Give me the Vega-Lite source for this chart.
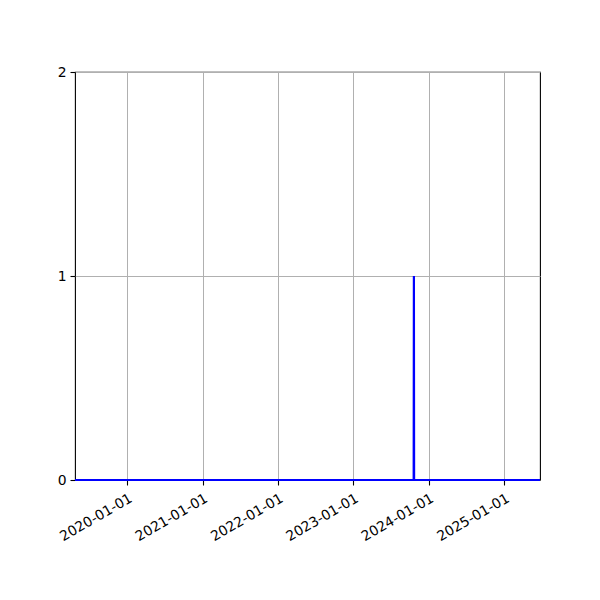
{
  "$schema": "https://vega.github.io/schema/vega-lite/v6.json",
  "autosize": {"type": "none"},
  "padding": {"left": 75, "top": 72, "right": 60, "bottom": 120},
  "width": 465,
  "height": 408,
  "background": "white",
  "data": {
    "values": [
      {"date": "2019-04-23", "value": 0},
      {"date": "2023-10-20", "value": 0},
      {"date": "2023-10-21", "value": 1},
      {"date": "2023-10-22", "value": 0},
      {"date": "2025-06-23", "value": 0}
    ]
  },
  "mark": {"type": "line", "color": "#0000ff", "strokeWidth": 2.2, "clip": false},
  "encoding": {
    "x": {
      "field": "date",
      "type": "temporal",
      "scale": {
        "type": "utc",
        "domain": [
          {"year": 2019, "month": 4, "date": 23, "utc": true},
          {"year": 2025, "month": 6, "date": 23, "utc": true}
        ]
      },
      "axis": {
        "title": null,
        "values": [
          {"year": 2020, "month": 1, "date": 1, "utc": true},
          {"year": 2021, "month": 1, "date": 1, "utc": true},
          {"year": 2022, "month": 1, "date": 1, "utc": true},
          {"year": 2023, "month": 1, "date": 1, "utc": true},
          {"year": 2024, "month": 1, "date": 1, "utc": true},
          {"year": 2025, "month": 1, "date": 1, "utc": true}
        ],
        "format": "%Y-%m-%d",
        "labelAngle": -30,
        "labelAlign": "right",
        "labelBaseline": "top",
        "labelPadding": 6,
        "labelFlush": false,
        "labelOverlap": false
      }
    },
    "y": {
      "field": "value",
      "type": "quantitative",
      "scale": {"domain": [0, 2], "nice": false, "zero": true},
      "axis": {
        "title": null,
        "values": [0, 1, 2],
        "labelExpr": "format(datum.value, 'd')",
        "labelFlush": false,
        "labelOverlap": false,
        "labelPadding": 4
      }
    }
  },
  "config": {
    "view": {"stroke": "black", "strokeWidth": 1.1},
    "axis": {
      "domain": false,
      "grid": true,
      "gridColor": "#b0b0b0",
      "gridWidth": 1,
      "tickColor": "black",
      "tickSize": 5,
      "tickWidth": 1.1,
      "labelFont": "DejaVu Sans",
      "labelFontSize": 13.9,
      "labelColor": "black"
    }
  }
}
